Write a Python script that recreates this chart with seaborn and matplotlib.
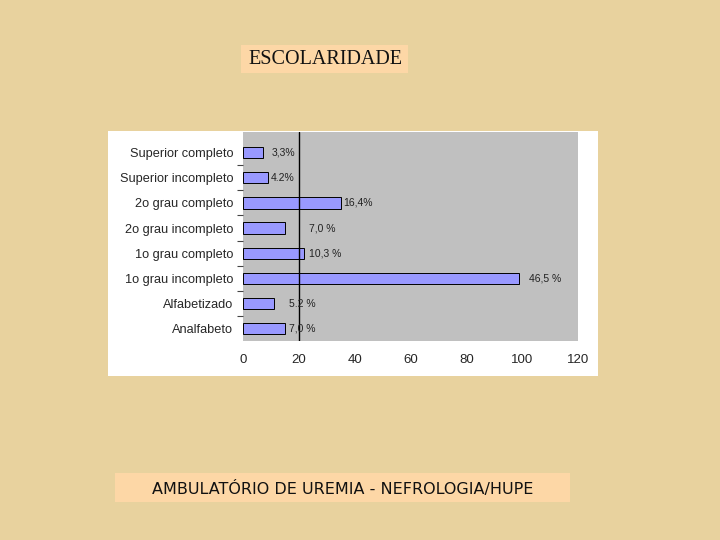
import matplotlib
matplotlib.use("Agg")
import matplotlib.pyplot as plt
from matplotlib.patches import Rectangle
import seaborn as sns
import pandas as pd

categories = ["Superior completo", "Superior incompleto", "2o grau completo",
              "2o grau incompleto", "1o grau completo", "1o grau incompleto",
              "Alfabetizado", "Analfabeto"]
counts = [7, 9, 35, 15, 22, 99, 11, 15]
pct_labels = ["3,3%", "4.2%", "16,4%", "7,0 %", "10,3 %", "46,5 %", "5.2 %", "7,0 %"]
label_dx = [3.4, 1.0, 0.8, 8.6, 1.5, 3.5, 5.4, 1.5]
xticks = [0, 20, 40, 60, 80, 100, 120]

sns.set_theme(style="white")
plt.rcParams['font.family'] = ['Liberation Sans', 'DejaVu Sans']

fig = plt.figure(figsize=(7.2, 5.4), dpi=100)
fig.patch.set_facecolor("#E8D29E")

W, H = 720, 540
def box(x0, y0, x1, y1, color):
    fig.patches.append(Rectangle((x0 / W, 1 - y1 / H), (x1 - x0) / W, (y1 - y0) / H,
                                 transform=fig.transFigure, facecolor=color,
                                 edgecolor="none", zorder=0))

box(108, 131, 598, 376, "white")
box(241, 45, 408, 73, "#FDD7A6")
box(115, 473, 570, 502, "#FDD7A6")

fig.text(325 / W, 1 - 59 / H, "ESCOLARIDADE", family="Liberation Serif",
         fontsize=14.5, ha="center", va="center", color="#111111", zorder=5)
fig.text(343 / W, 1 - 489 / H, "AMBULATÓRIO DE UREMIA - NEFROLOGIA/HUPE",
         family="DejaVu Sans", fontsize=11.5, ha="center", va="center", color="#111111", zorder=5)

ax = fig.add_axes([243 / W, 1 - 341 / H, (578 - 243) / W, (341 - 132) / H])
ax.set_zorder(3)
ax.set_facecolor("#C0C0C0")

df = pd.DataFrame({"cat": categories, "n": counts})
sns.barplot(data=df, x="n", y="cat", orient="h", color="#9999FF", saturation=1,
            edgecolor="black", linewidth=0.7, width=0.45, ax=ax, zorder=2)

ax.axvline(20, color="black", linewidth=1, zorder=3)

for i, (v, lab, dx) in enumerate(zip(counts, pct_labels, label_dx)):
    ax.text(v + dx, i, lab, fontsize=7.5, va="center", ha="left", color="#222222", zorder=4)

ax.set_xlim(0, 120)
ax.set_ylim(7.49, -0.82)
ax.set_xticks(xticks)
ax.set_xticklabels([str(t) for t in xticks], fontsize=9.5)
ax.tick_params(axis="y", labelsize=9.2, length=0, pad=7)
ax.tick_params(axis="x", length=0, pad=9.5)
ax.set_yticks(range(len(categories)), minor=False)
ax.set_yticks([i + 0.5 for i in range(len(categories) - 1)], minor=True)
ax.tick_params(axis="y", which="minor", length=4, width=0.8, color="#444444", left=True)
ax.set_xlabel("")
ax.set_ylabel("")
for s in ax.spines.values():
    s.set_visible(False)

fig.savefig("out.png", dpi=100, facecolor=fig.get_facecolor())
